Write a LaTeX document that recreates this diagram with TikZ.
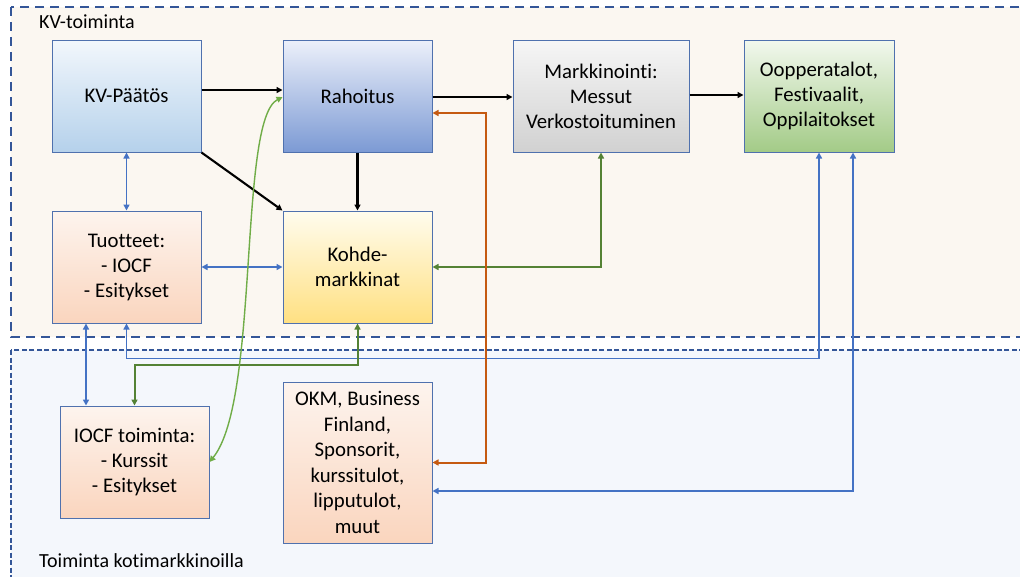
\documentclass[tikz,border=0pt]{standalone}
\usepackage{fontspec}
\setmainfont{Carlito}[Ligatures={NoCommon}]
\usetikzlibrary{arrows.meta,calc}
\definecolor{bordc}{RGB}{79,113,174}
\definecolor{regc}{RGB}{52,86,152}
\definecolor{topfill}{RGB}{251,247,241}
\definecolor{botfill}{RGB}{244,247,252}
\definecolor{cblue}{RGB}{68,114,196}
\definecolor{cdgreen}{RGB}{84,130,53}
\definecolor{clgreen}{RGB}{112,173,71}
\definecolor{corange}{RGB}{197,90,17}
\tikzset{
  mytip/.tip={Triangle[length=6pt,width=6pt]},
  boxbase/.style={draw=bordc, line width=1pt, minimum width=149pt, minimum height=112pt,
    inner sep=2pt, align=center, font=\fontsize{20.8}{25}\selectfont},
  kvbox/.style={boxbase, top color={rgb,255:red,242;green,247;blue,252}, bottom color={rgb,255:red,181;green,209;blue,235}},
  rahbox/.style={boxbase, top color={rgb,255:red,236;green,240;blue,250}, bottom color={rgb,255:red,124;green,154;blue,212}},
  markbox/.style={boxbase, top color={rgb,255:red,246;green,246;blue,246}, bottom color={rgb,255:red,209;green,209;blue,209}},
  oopbox/.style={boxbase, top color={rgb,255:red,242;green,248;blue,238}, bottom color={rgb,255:red,163;green,203;blue,135}},
  orbox/.style={boxbase, top color={rgb,255:red,253;green,244;blue,238}, middle color={rgb,255:red,245;green,185;blue,144}, bottom color={rgb,255:red,250;green,213;blue,190}},
  yelbox/.style={boxbase, top color={rgb,255:red,255;green,252;blue,238}, bottom color={rgb,255:red,255;green,224;blue,130}},
  blk/.style={draw=black, line width=2.1pt, -{mytip}},
  bl/.style={draw=cblue, line width=1.9pt, {mytip}-{mytip}},
  dg/.style={draw=cdgreen, line width=2pt, {mytip}-{mytip}},
  lg/.style={draw=clgreen, line width=1.4pt, {mytip}-{mytip}},
  orl/.style={draw=corange, line width=2pt, {mytip}-{mytip}},
  reglabel/.style={anchor=base west, inner sep=0pt, font=\fontsize{20}{24}\selectfont},
}
\begin{document}
\begin{tikzpicture}[x=1pt,y=-1pt]
\useasboundingbox (0,0) rectangle (1020,576);
\fill[white] (0,0) rectangle (1020,576);
% regions
\draw[fill=topfill, draw=regc, line width=2.2pt, dash pattern=on 9pt off 6pt] (11,7) rectangle (1040,337);
\draw[fill=botfill, draw=regc, line width=1.6pt, dash pattern=on 5pt off 2.5pt] (11,350) rectangle (1040,600);
\node[reglabel] (lab1) at (39,28) {KV-toiminta};
\node[reglabel] (lab2) at (39,567) {Toiminta kotimarkkinoilla};
% boxes
\node[kvbox] (kv) at (126.5,96) {KV-Päätös};
\node[rahbox] (rah) at (357.5,96) {Rahoitus};
\node[markbox, minimum width=176pt] (mark) at (601,96) {Markkinointi:\\Messut\\Verkostoituminen};
\node[oopbox, minimum width=150pt] (oop) at (819,96) {Oopperatalot,\\Festivaalit,\\Oppilaitokset};
\node[orbox] (tuot) at (126.5,267) {Tuotteet:\\- IOCF\\- Esitykset};
\node[yelbox] (kohde) at (357.5,267) {Kohde-\\markkinat};
\node[orbox] (iocf) at (134.5,462) {IOCF toiminta:\\- Kurssit\\- Esitykset};
\node[orbox, minimum height=161pt, font=\fontsize{20.8}{25.5}\selectfont] (okm) at (357.5,462.5) {OKM, Business\\Finland,\\Sponsorit,\\kurssitulot,\\lipputulot,\\muut};
% black arrows
\draw[blk] ([yshift=6pt]kv.east) -- ([yshift=6pt]rah.west);
\draw[blk] ([yshift=-1pt]rah.east) -- ([yshift=-1pt]mark.west);
\draw[blk] ([yshift=1pt]mark.east) -- ([yshift=1pt]oop.west);
\draw[blk] (kv.south east) -- (kohde.north west);
\draw[blk] (rah.south) -- (kohde.north);
% blue
\draw[bl] (kv.south) -- (tuot.north);
\draw[bl] (tuot.east) -- (kohde.west);
\draw[bl] (tuot.south) -- ++(0,35) -| (oop.south);
\draw[bl] ([xshift=-40.5pt]tuot.south) -- ([xshift=-40.5pt]tuot.south |- iocf.north);
\draw[bl] ([xshift=34pt]oop.south) |- ([yshift=-28.5pt]okm.east);
% greens
\draw[dg] (mark.south) |- (kohde.east);
\draw[dg] (kohde.south) -- ++(0,41) -| (iocf.north);
\draw[lg] (iocf.east) .. controls (260,400) and (238,120) .. ([yshift=-1pt]rah.west);
% orange
\draw[orl] ([yshift=-17pt]rah.east) -- ++(53,0) |- (okm.east);
\end{tikzpicture}
\end{document}
